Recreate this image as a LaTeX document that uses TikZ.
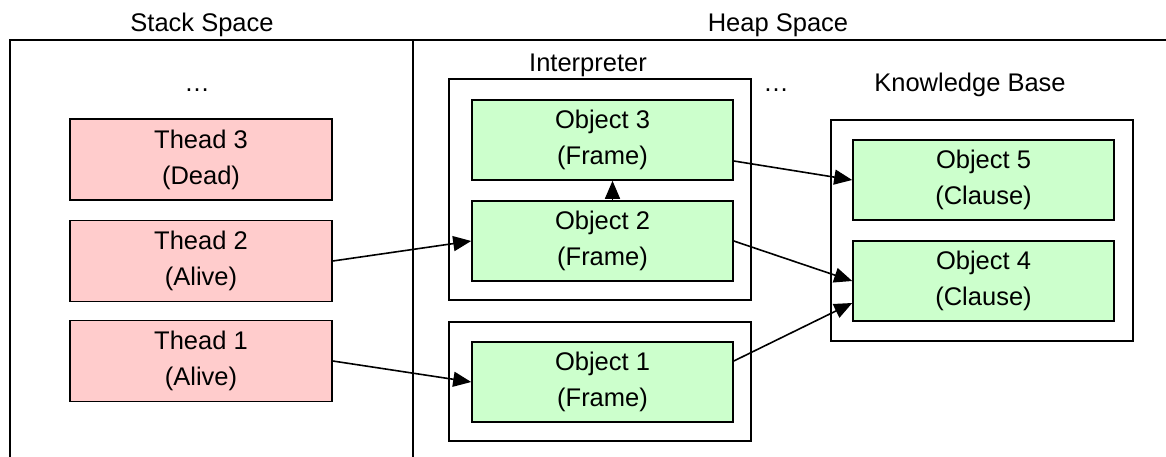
\documentclass[tikz,border=0pt]{standalone}
\usepackage{fontspec}
\setmainfont{Liberation Sans}
\usetikzlibrary{arrows.meta}
\definecolor{threadpink}{HTML}{FFCCCC}
\definecolor{objgreen}{HTML}{CCFFCC}
\begin{document}
\begin{tikzpicture}[x=1pt,y=-1pt,line width=1.6pt,
  every node/.style={font=\fontsize{25.5}{36}\selectfont},
  thread/.style={draw,fill=threadpink,minimum width=262pt,minimum height=81pt,align=center,inner sep=0pt},
  object/.style={draw,fill=objgreen,minimum width=261pt,minimum height=80pt,align=center,inner sep=0pt},
  container/.style={draw,minimum width=302pt,inner sep=0pt},
  caption/.style={anchor=base,inner sep=0pt},
  conn/.style={-{Triangle[length=18pt,width=15pt]},line width=1.6pt}]
\useasboundingbox (0,0) rectangle (1166,457);

% memory areas
\draw (10,457) -- (10,40) -- (1166,40);
\draw (413,40) -- (413,457);
\node[caption] (stacklbl) at (202,32) {Stack Space};
\node[caption] (heaplbl) at (778,32) {Heap Space};

% stack: threads
\node[caption] (stackdots) at (197,92) {…};
\node[thread] (t3) at (201,159.5) {Thead 3\\(Dead)};
\node[thread] (t2) at (201,261) {Thead 2\\(Alive)};
\node[thread] (t1) at (201,361) {Thead 1\\(Alive)};

% heap: interpreters
\node[caption] (interplbl) at (588,72) {Interpreter};
\node[container,minimum height=221pt] (interp) at (600,189.5) {};
\node[container,minimum height=119pt] (interp2) at (600,381.5) {};
\node[object] (o3) at (602.5,140) {Object 3\\(Frame)};
\node[object] (o2) at (602.5,241) {Object 2\\(Frame)};
\node[object] (o1) at (602.5,382) {Object 1\\(Frame)};
\node[caption] (heapdots) at (776,92) {…};

% heap: knowledge base
\node[caption] (kblbl) at (970,92) {Knowledge Base};
\node[container,minimum height=221pt] (kb) at (982,230.5) {};
\node[object] (o5) at (983.5,180) {Object 5\\(Clause)};
\node[object] (o4) at (983.5,281) {Object 4\\(Clause)};

% references
\draw[conn] (t2.east) -- (o2.west);
\draw[conn] (t1.east) -- (o1.west);
\draw[conn] ([xshift=10pt]o2.north) -- ([xshift=10pt]o3.south);
\draw[conn] ([yshift=-21pt]o3.east) -- (o5.west);
\draw[conn] (o2.east) -- (o4.west);
\draw[conn] ([yshift=21pt]o1.east) -- ([yshift=-22pt]o4.west);
\end{tikzpicture}
\end{document}
